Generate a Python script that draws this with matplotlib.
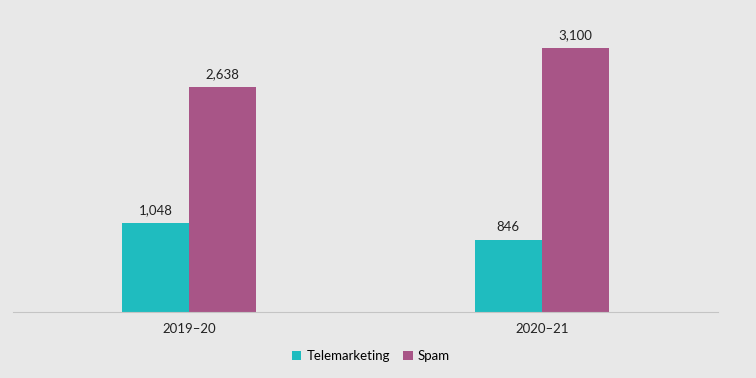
import numpy as np
import matplotlib.pyplot as plt

years = ["2019\u201320", "2020\u201321"]
telemarketing = [1048, 846]
spam = [2638, 3100]

bg = "#e8e8e8"
teal = "#1fbcbf"
purple = "#a85587"

plt.rcParams['font.family'] = ['Lato', 'DejaVu Sans']

fig = plt.figure(figsize=(7.56, 3.78), dpi=100, facecolor=bg)
ax = fig.add_axes([13 / 756, 66 / 378, 705 / 756, 312 / 378])
ax.set_facecolor(bg)

x = np.arange(len(years))
w = 0.19
b1 = ax.bar(x - w / 2, telemarketing, w, color=teal, label="Telemarketing")
b2 = ax.bar(x + w / 2, spam, w, color=purple, label="Spam")

for bars, vals in [(b1, telemarketing), (b2, spam)]:
    for bar, v in zip(bars, vals):
        ax.annotate(f"{v:,}", (bar.get_x() + bar.get_width() / 2, v),
                    xytext=(0, 5), textcoords="offset points",
                    ha="center", va="bottom", fontsize=9.5, color="#222222")

ax.set_xlim(-0.5, 1.5)
ax.set_ylim(0, 3664)
ax.set_xticks(x)
ax.set_xticklabels(years, fontsize=9.5, color="#222222")
ax.tick_params(axis="x", length=0, pad=8)
ax.set_yticks([])
for s in ["top", "right", "left"]:
    ax.spines[s].set_visible(False)
ax.spines["bottom"].set_color("#c4c4c4")
ax.spines["bottom"].set_linestyle((0, (1, 1)))
ax.spines["bottom"].set_linewidth(0.8)

fig.legend(loc="center", bbox_to_anchor=(371 / 756, 1 - 356 / 378), ncol=2,
           frameon=False, fontsize=9.5, handlelength=0.7, handleheight=0.7,
           handletextpad=0.4, columnspacing=1.0)

fig.savefig("out.png", dpi=100, facecolor=bg)
